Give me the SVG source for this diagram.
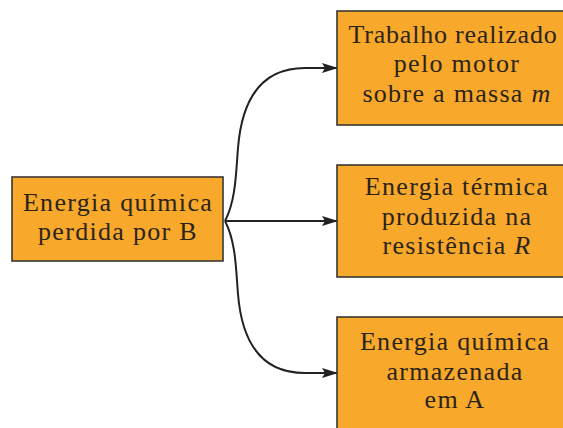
<svg xmlns="http://www.w3.org/2000/svg" width="563" height="428" viewBox="0 0 563 428">
<defs>
<style>
.box{fill:#F8A82A;stroke:#3a3530;stroke-width:1.6}
.t{font-family:"Liberation Serif","Times New Roman",serif;font-size:26px;fill:#2b2419;text-anchor:middle;letter-spacing:1.3px}
.c{fill:none;stroke:#222;stroke-width:2}
</style>
<marker id="ah" markerWidth="16" markerHeight="10" refX="15" refY="5" orient="auto" markerUnits="userSpaceOnUse">
<path d="M0,0 L16,5 L0,10 L3,5 Z" fill="#222"/>
</marker>
</defs>
<rect width="563" height="428" fill="#fff"/>
<g id="connectors">
<path class="c" marker-end="url(#ah)" d="M225,221 C236,200 236,172 238,148 C242,98 262,68 305,68 L337,68"/>
<path class="c" marker-end="url(#ah)" d="M225,221 L337,221"/>
<path class="c" marker-end="url(#ah)" d="M225,221 C236,242 236,270 238,294 C242,344 262,373 305,373 L337,373"/>
</g>
<g id="n-source">
<rect class="box" x="12" y="177" width="211" height="84"/>
<text class="t" x="118" y="211">Energia química</text>
<text class="t" x="118" y="240">perdida por B</text>
</g>
<g id="n-trabalho">
<rect class="box" x="337" y="11" width="240" height="114"/>
<text class="t" x="453" y="43" style="letter-spacing:0.8px">Trabalho realizado</text>
<text class="t" x="457" y="72">pelo motor</text>
<text class="t" x="457" y="102">sobre a massa <tspan font-style="italic">m</tspan></text>
</g>
<g id="n-termica">
<rect class="box" x="337" y="165" width="240" height="112"/>
<text class="t" x="457" y="195">Energia térmica</text>
<text class="t" x="457" y="225">produzida na</text>
<text class="t" x="457" y="254">resistência <tspan font-style="italic">R</tspan></text>
</g>
<g id="n-armazenada">
<rect class="box" x="337" y="317" width="240" height="130"/>
<text class="t" x="455" y="350">Energia química</text>
<text class="t" x="455" y="380">armazenada</text>
<text class="t" x="455" y="408">em A</text>
</g>
</svg>
